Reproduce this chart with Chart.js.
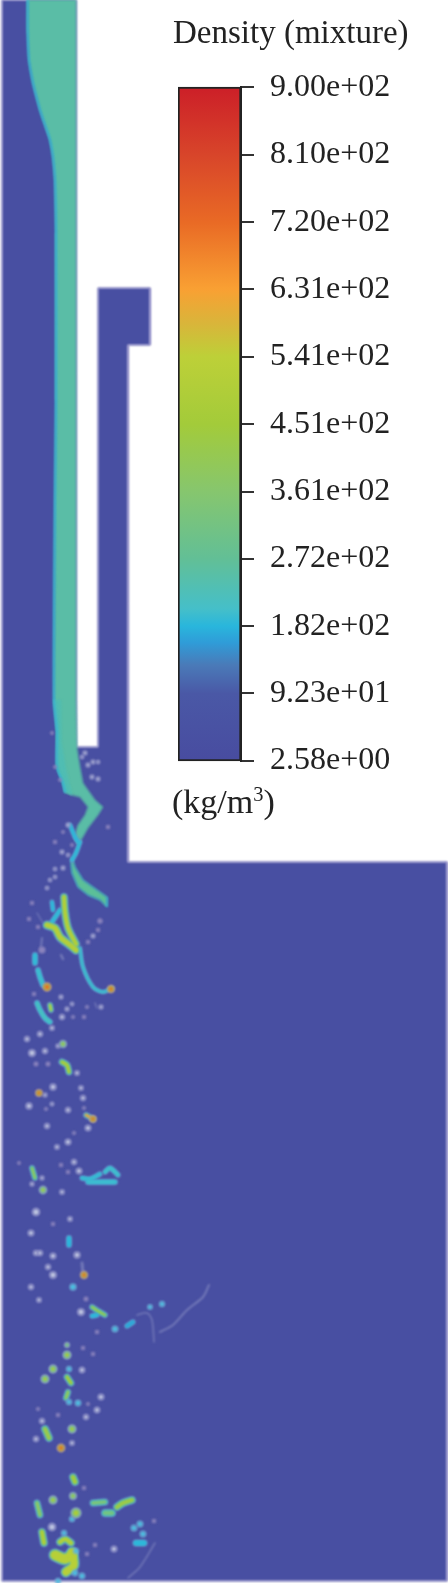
<!DOCTYPE html>
<html>
<head>
<meta charset="utf-8">
<title>Density (mixture)</title>
<script src="https://cdn.jsdelivr.net/npm/chart.js@4"></script>
<style>
  html, body { margin: 0; padding: 0; background: #fff; }
  #page { position: relative; width: 448px; height: 1583px; overflow: hidden; font-family: "Liberation Serif", serif; color: #222; }
  canvas { position: absolute; display: block; }
  .label { position: absolute; white-space: nowrap; line-height: 1; }
  sup { font-size: 60%; line-height: 0; }
</style>
</head>
<body>
<div id="page">
  <canvas id="field" width="448" height="1583" style="left:0;top:0"></canvas>
  <canvas id="bar" width="270" height="744" style="left:178px;top:52px"></canvas>
  <div class="label" style="left:173px;top:16px;font-size:33px">Density (mixture)</div>
  <div class="label" style="left:172px;top:785px;font-size:34px">(kg/m<sup>3</sup>)</div>
</div>
<script>
// colour bar
const tickValues = [900, 810, 720, 631, 541, 451, 361, 272, 182, 92.3, 2.58];
const tickLabels = ['9.00e+02', '8.10e+02', '7.20e+02', '6.31e+02', '5.41e+02', '4.51e+02', '3.61e+02', '2.72e+02', '1.82e+02', '9.23e+01', '2.58e+00'];
const stopValues = [900, 810, 720, 631, 585, 541, 451, 361, 272, 205, 182, 160, 130, 92, 2.58];
const stopColors = ['#cc1f28', '#d8452a', '#e96a25', '#f9a033', '#d9b53a', '#bdd038', '#a3cb3a', '#86c66e', '#62bf96', '#45bfc9', '#29b6dc', '#2f9cd8', '#4a7ab8', '#4a58a6', '#484ca0'];

const domainEdge = [[2,0],[76,0],[76,747],[98,747],[98,288],[150,288],[150,345],[128,345],[128,862],[447,862],[447,1581],[2,1581]];
const jetLeftEdge = [[27.7,0],[27.7,33],[29,60],[33,83],[40,110],[45,125],[50,140],[53,157],[55,180],[56,233],[56,400],[55,500],[54,700],[57,733],[57,767],[63,783],[65,792]];
const jetRightEdge = [[72,795],[80,797],[88,807],[85,815],[78,825],[74,837],[78,844],[80,842],[88,828],[98,815],[103,807],[95,800],[83,783],[80,767],[77,748],[76,700],[76,0]];
const jetLowerLeft = [[54,700],[60,700],[61,740],[66,770],[72,795],[65,792],[63,783],[57,767],[57,733]];
const ribbonEdge = [[72,857],[75,867],[83,880],[97,890],[107,897],[107,907],[100,900],[88,895],[78,887],[72,873],[71,863]];

// ligaments: path, width, density
const streakPaths = [
  [[80,842],[76,853],[72,860]],
  [[70,825],[75,837],[78,842]],
  [[52,902],[53,910]],
  [[52,922],[60,910]],
  [[64,897],[65,912],[68,928],[76,944]],
  [[47,925],[55,928],[60,937],[70,945],[76,950]],
  [[35,955],[35,963]],
  [[38,970],[40,977],[43,985]],
  [[80,948],[83,967],[93,987],[103,992],[112,988]],
  [[37,1003],[40,1010],[45,1018],[50,1022]],
  [[50,1005],[51,1010]],
  [[62,1062],[67,1065],[69,1072]],
  [[86,1115],[93,1119]],
  [[32,1168],[35,1178]],
  [[82,1178],[90,1179],[100,1174]],
  [[88,1182],[100,1182],[115,1182]],
  [[105,1172],[110,1168],[118,1175]],
  [[69,1238],[69,1245]],
  [[92,1307],[98,1311],[105,1315]],
  [[92,1316],[97,1315]],
  [[127,1326],[133,1322]],
  [[67,1377],[71,1383]],
  [[68,1392],[66,1398]],
  [[45,1429],[49,1438]],
  [[37,1503],[40,1515]],
  [[93,1503],[105,1502]],
  [[105,1513],[112,1513]],
  [[117,1507],[123,1503],[132,1500]],
  [[73,1477],[75,1482]],
  [[42,1532],[44,1543]],
  [[60,1542],[65,1539],[71,1543]],
  [[55,1555],[65,1559],[72,1555]],
  [[72,1552],[74,1565],[66,1572]],
  [[136,1543],[144,1543]]
];
const streakWidths = [2, 2, 2, 2.5, 5, 6, 3, 3, 1.5, 3, 3, 4, 3, 3, 2.5, 3, 2.5, 3, 3, 2.5, 2.5, 4, 3.5, 5, 4, 4, 5, 5, 5, 5, 5, 10, 8, 4];
const streakRho = [190, 185, 185, 190, 500, 510, 190, 200, 210, 220, 520, 470, 620, 400, 195, 200, 205, 180, 420, 185, 165, 450, 400, 420, 380, 340, 320, 430, 450, 480, 500, 520, 520, 185];

// thin pale trails
const faintPaths = [
  [[137,1315],[147,1313],[152,1320],[154,1342]],
  [[160,1332],[173,1325],[187,1310],[203,1297],[209,1285]],
  [[128,1578],[140,1567],[155,1543]],
  [[37,913],[43,923]],
  [[42,938],[41,947]],
  [[82,1263],[83,1273]],
  [[95,1003],[97,1008]],
  [[61,955],[63,959]]
];
const faintWidths = [1.5, 2, 1.5, 1.2, 2, 3, 1.5, 2.5];

// droplets: x, y, radius
const paleDrops = [
  [85,753,1.5],[93,762,1.5],[88,765,1.5],[82,757,1.2],[98,762,1.2],[92,777,1.5],[98,779,1.5],[68,825,1.5],[62,852,1.5],[68,855,1.2],[55,869,1.2],[63,868,1.5],[50,880,1.2],[55,877,1.2],[47,888,1.2],[93,936,1.5],
  [61,997,1.5],[72,1004,1.3],[67,1009,1.5],[101,1007,1.5],[62,1017,2],[40,1034,2],[27,1039,2],[45,1051,2],[32,1053,2.8],[58,1046,1.5],[52,1028,1.8],[77,1073,1.8],[53,1087,2.5],[81,1088,1.8],[45,1095,1.5],[83,1098,2],[29,1106,2.5],[52,1104,1.3],[68,1110,2],[47,1126,2],[88,1128,2.3],[68,1142,2.3],[57,1147,1.8],
  [74,1162,2],[42,1178,1.5],[32,1184,1.5],[79,1171,2.3],[62,1192,1.8],[36,1212,3],[70,1219,1.8],[31,1233,2.3],[36,1253,2],[40,1253,2],[53,1256,2.3],[77,1255,2.5],[48,1267,2],[53,1275,2.8],[31,1287,2],[39,1300,1.8],[81,1312,2.8],
  [101,1397,2.3],[82,1370,2.2],[97,1410,2.2],[86,1417,2],[42,1421,2],[36,1439,2],[72,1443,1.8],[114,1549,2.3],[52,1527,3]
];
const dimDrops = [
  [52,733,1.2],[55,767,1.2],[60,780,1.2],[108,827,1.5],[63,832,1.2],[55,842,1.5],[72,845,1.3],[32,903,1.5],[29,919,1.5],[100,921,2],[98,930,1.5],[88,942,1.5],[38,927,1.5],[42,950,2.8],
  [34,994,1.5],[87,1007,1.3],[84,1017,1.5],[73,1017,1.3],[36,1064,1.8],[48,1064,1.8],[46,1109,1.3],[84,1108,1.3],[74,1133,1.3],
  [19,1163,1.2],[61,1165,1.5],[68,1172,1.5],[53,1224,1.5],[86,1299,1.8],[97,1332,1.5],[83,1348,1.5],[93,1354,1.5],[38,1409,1.3],[58,1415,1.5],[88,1404,1.2],[84,1488,1.5],[95,1545,1.5],[87,1554,1.5],[154,1521,1.5]
];
const cyanDrops = [
  [115,1329,2.3],[162,1304,2],[150,1307,1.8],[73,1287,2.5],[69,1369,2],[78,1403,2.2],[69,1402,2],[134,1528,2.3],[140,1524,2.3],[143,1534,2.3],[72,1519,2],[76,1551,2],[75,1573,2.2],[82,1576,2.2],[64,1533,2],[58,1581,2]
];
const greenDrops = [
  [63,1044,3],[43,1190,3.2],[67,1355,3.5],[53,1369,3.5],[45,1379,3.5],[72,1429,3.5],[53,1500,3.5],[73,1496,3],[76,1513,4.5],[67,1345,2]
];
const hotDrops = [[47,987,3.5],[111,989,3],[39,1093,2.8],[93,1119,2.8],[84,1275,3],[61,1448,3.2]];

function hexToRgb(h) {
  return [1, 3, 5].map(i => parseInt(h.slice(i, i + 2), 16));
}

function densityColor(rho) {
  for (let i = 0; i < stopValues.length - 1; i++) {
    if (rho <= stopValues[i] && rho >= stopValues[i + 1]) {
      const t = (rho - stopValues[i + 1]) / (stopValues[i] - stopValues[i + 1]);
      const a = hexToRgb(stopColors[i + 1]);
      const b = hexToRgb(stopColors[i]);
      return 'rgb(' + a.map((v, k) => Math.round(v + (b[k] - v) * t)).join(',') + ')';
    }
  }
  return stopColors[0];
}

function toPoints(list) {
  return list.map(p => ({ x: p[0], y: p[1] }));
}

const layers = [];

function addShape(edge, fillColor, edgeColor, edgeWidth) {
  layers.push({
    data: toPoints(edge.concat([edge[0]])),
    showLine: true, fill: 'shape', backgroundColor: fillColor,
    borderColor: edgeColor, borderWidth: edgeWidth, pointRadius: 0, tension: 0
  });
}

function addStroke(path, width, color) {
  layers.push({
    data: toPoints(path),
    showLine: true, fill: false, borderColor: color, borderWidth: width,
    borderCapStyle: 'round', borderJoinStyle: 'round', pointRadius: 0, tension: 0.3
  });
}

function addDrops(list, color, halo, haloWidth, grow) {
  layers.push({
    data: toPoints(list),
    showLine: false,
    pointRadius: list.map(d => Math.max(0.6, d[2] + grow)),
    pointBackgroundColor: color, pointBorderColor: halo, pointBorderWidth: haloWidth
  });
}

addShape(domainEdge, '#484fa2', '#8e88c6', 1);
addShape(jetLeftEdge.concat(jetRightEdge), '#5abda6', '#5abda6', 0.5);
addShape(jetLowerLeft, '#50bdb3', '#50bdb3', 0.5);
addStroke(jetLeftEdge, 2, '#35b7d8');
addShape(ribbonEdge, '#5cbf98', '#38b8d4', 1);

faintPaths.forEach((path, i) => addStroke(path, faintWidths[i], '#7379b8'));
streakPaths.forEach((path, i) => addStroke(path, streakWidths[i] + 3.5, 'rgba(125,135,200,0.55)'));
streakPaths.forEach((path, i) => addStroke(path, streakWidths[i] + 1.5, '#35b7d8'));
streakPaths.forEach((path, i) => addStroke(path, streakWidths[i], densityColor(streakRho[i])));

addDrops(dimDrops, '#8b84bd', 'rgba(139,132,189,0.4)', 1, 0.5);
addDrops(paleDrops, '#bcc3df', 'rgba(125,125,190,0.6)', 1.8, 0.5);
addDrops(cyanDrops, '#45c0e0', 'rgba(130,170,215,0.6)', 1.4, 0.5);
addDrops(greenDrops, '#8fa8c8', 'rgba(140,150,200,0.6)', 1.4, 0.5);
addDrops(greenDrops, densityColor(470), '#52bfb0', 0.8, -0.8);
addDrops(hotDrops, '#a8a070', 'rgba(190,150,170,0.7)', 1.4, 0.5);
addDrops(hotDrops, densityColor(720), densityColor(480), 0.8, -0.8);

// painter order: first layer at the bottom
layers.forEach((d, i) => { d.order = layers.length - i; });

const softEdges = {
  id: 'softEdges',
  beforeDatasetsDraw(chart) { chart.ctx.save(); chart.ctx.filter = 'blur(0.8px)'; },
  afterDatasetsDraw(chart) { chart.ctx.restore(); }
};

new Chart(document.getElementById('field'), {
  type: 'scatter',
  data: { datasets: layers },
  options: {
    responsive: false,
    animation: false,
    devicePixelRatio: 1,
    layout: { padding: 0, autoPadding: false },
    plugins: { legend: { display: false }, tooltip: { enabled: false } },
    scales: {
      x: { type: 'linear', min: 0, max: 448, display: false },
      y: { type: 'linear', min: 0, max: 1583, reverse: true, display: false }
    }
  },
  plugins: [softEdges]
});

new Chart(document.getElementById('bar'), {
  type: 'bar',
  data: {
    labels: ['Density (mixture)'],
    datasets: [{
      data: [[tickValues[tickValues.length - 1], tickValues[0]]],
      barPercentage: 1,
      categoryPercentage: 1,
      borderColor: '#222',
      borderWidth: 2,
      borderSkipped: false,
      clip: false,
      backgroundColor(ctx) {
        const { chart } = ctx;
        if (!chart.chartArea) return stopColors[0];
        const s = chart.scales.y;
        const top = s.getPixelForValue(stopValues[0]);
        const bottom = s.getPixelForValue(stopValues[stopValues.length - 1]);
        const g = chart.ctx.createLinearGradient(0, top, 0, bottom);
        stopValues.forEach((v, i) => {
          g.addColorStop((s.getPixelForValue(v) - top) / (bottom - top), stopColors[i]);
        });
        return g;
      }
    }]
  },
  options: {
    responsive: false,
    animation: false,
    devicePixelRatio: 1,
    layout: { padding: 0 },
    plugins: { legend: { display: false }, tooltip: { enabled: false } },
    scales: {
      x: { display: false },
      y: {
        type: 'linear',
        position: 'right',
        min: tickValues[tickValues.length - 1],
        max: tickValues[0],
        afterBuildTicks(scale) { scale.ticks = tickValues.map(v => ({ value: v })); },
        afterFit(scale) { scale.width = 207; },
        border: { display: true, color: '#222', width: 2 },
        grid: { drawOnChartArea: false, drawTicks: true, tickLength: 13, color: '#333', lineWidth: 2 },
        ticks: {
          padding: 16,
          color: '#222',
          autoSkip: false,
          maxRotation: 0,
          font: { family: '"Liberation Serif", serif', size: 32 },
          callback(value) { return tickLabels[tickValues.indexOf(value)]; }
        }
      }
    }
  }
});
</script>
</body>
</html>
